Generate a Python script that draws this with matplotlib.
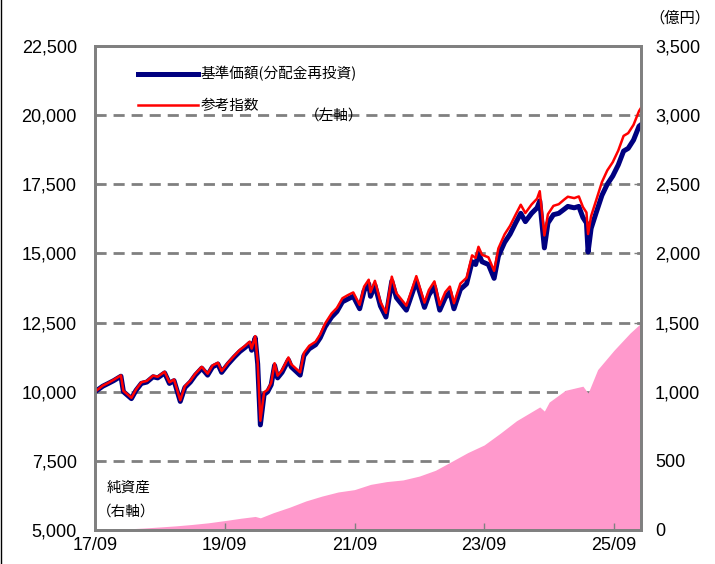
import matplotlib
matplotlib.use("Agg")
import matplotlib.pyplot as plt
import matplotlib.dates as mdates
import matplotlib.lines as mlines
import matplotlib.ticker as mticker
import pandas as pd

plt.rcParams['font.family'] = ['Noto Sans CJK JP', 'DejaVu Sans']

# 基準価額 / 参考指数 (left axis)
nav_dates = [
    "2017-09-01", "2017-10-15", "2017-11-15", "2017-12-15", "2018-01-25", "2018-02-08",
    "2018-03-25", "2018-04-20", "2018-05-20", "2018-06-20", "2018-07-25", "2018-08-20",
    "2018-09-28", "2018-10-25", "2018-11-20", "2018-12-25", "2019-01-20", "2019-02-20",
    "2019-03-20", "2019-04-25", "2019-05-28", "2019-06-25", "2019-07-25", "2019-08-15",
    "2019-09-20", "2019-10-25", "2019-11-25", "2019-12-25", "2020-01-20", "2020-01-31",
    "2020-02-20", "2020-03-05", "2020-03-20", "2020-04-10", "2020-04-30", "2020-05-20",
    "2020-06-08", "2020-06-25", "2020-07-20", "2020-08-25", "2020-09-10", "2020-10-30",
    "2020-11-20", "2020-12-20", "2021-01-25", "2021-02-20", "2021-03-20", "2021-04-25",
    "2021-05-25", "2021-06-25", "2021-07-25", "2021-08-25", "2021-09-30", "2021-10-25",
    "2021-11-20", "2021-11-30", "2021-12-25", "2022-01-25", "2022-02-25", "2022-03-30",
    "2022-04-25", "2022-05-20", "2022-06-20", "2022-07-25", "2022-08-15", "2022-09-30",
    "2022-10-25", "2022-11-25", "2022-12-25", "2023-01-25", "2023-02-20", "2023-03-15",
    "2023-04-20", "2023-05-25", "2023-06-25", "2023-07-15", "2023-07-31", "2023-08-20",
    "2023-09-25", "2023-10-27", "2023-11-20", "2023-12-25", "2024-01-25", "2024-02-25",
    "2024-03-25", "2024-04-20", "2024-05-25", "2024-06-25", "2024-07-10", "2024-08-05",
    "2024-08-25", "2024-09-25", "2024-10-25", "2024-11-25", "2024-12-15", "2025-01-20",
    "2025-02-15", "2025-03-10", "2025-03-30", "2025-04-08", "2025-04-25", "2025-05-25",
    "2025-06-25", "2025-07-25", "2025-08-25", "2025-09-25", "2025-10-25", "2025-11-20",
    "2025-12-20", "2026-01-20", "2026-01-30",
]
fund = [
    10000, 10200, 10300, 10400, 10560, 10000,
    9750, 10050, 10300, 10350, 10540, 10500,
    10680, 10300, 10400, 9650, 10150, 10350,
    10600, 10850, 10600, 10900, 11000, 10700,
    11000, 11250, 11450, 11600, 11750, 11500,
    11950, 11000, 8800, 9900, 10000, 10250,
    10950, 10500, 10700, 11150, 10900, 10600,
    11300, 11550, 11700, 11950, 12350, 12700,
    12900, 13250, 13350, 13450, 13000, 13650,
    13900, 13450, 13850, 13100, 12700, 14000,
    13400, 13200, 12950, 13600, 14000, 13050,
    13500, 13800, 12950, 13400, 13600, 13000,
    13700, 13900, 14700, 14600, 15000, 14700,
    14600, 14100, 14900, 15400, 15700, 16100,
    16450, 16150, 16450, 16650, 16900, 15200,
    16100, 16400, 16450, 16600, 16700, 16650,
    16700, 16300, 16100, 15050, 15900, 16500,
    17100, 17500, 17800, 18200, 18700, 18800,
    19100, 19600, 19650,
]
ref_index = [
    10000, 10220, 10320, 10430, 10590, 10030,
    9780, 10080, 10340, 10390, 10580, 10540,
    10720, 10340, 10440, 9690, 10200, 10400,
    10650, 10900, 10650, 10950, 11050, 10750,
    11050, 11300, 11510, 11660, 11810, 11560,
    12010, 11060, 8950, 9980, 10070, 10320,
    11030, 10580, 10780, 11240, 10990, 10700,
    11400, 11660, 11810, 12070, 12470, 12830,
    13030, 13380, 13490, 13590, 13140, 13800,
    14050, 13600, 14010, 13250, 12850, 14160,
    13560, 13360, 13110, 13770, 14180, 13220,
    13680, 13990, 13130, 13600, 13800, 13200,
    13910, 14120, 14930, 14840, 15240, 14950,
    14860, 14370, 15180, 15690, 16000, 16400,
    16760, 16460, 16770, 16980, 17250, 15650,
    16420, 16720, 16780, 16950, 17050, 17000,
    17060, 16680, 16480, 15700, 16350, 16950,
    17580, 18000, 18300, 18720, 19250, 19350,
    19650, 20150, 20250,
]

# 純資産 (right axis, 億円)
asset_dates = [
    "2017-09-01", "2017-12-01", "2018-03-01", "2018-06-01", "2018-09-01", "2018-12-01",
    "2019-03-01", "2019-06-01", "2019-09-01", "2019-12-01", "2020-02-20", "2020-03-20",
    "2020-06-01", "2020-09-01", "2020-12-01", "2021-03-01", "2021-06-01", "2021-09-01",
    "2021-12-01", "2022-03-01", "2022-06-01", "2022-09-01", "2022-12-01", "2023-03-01",
    "2023-06-01", "2023-09-01", "2023-12-01", "2024-03-01", "2024-07-10", "2024-08-05",
    "2024-09-01", "2024-12-01", "2025-03-10", "2025-04-08", "2025-06-01", "2025-09-01",
    "2025-12-01", "2026-01-30",
]
net_assets = [
    0, 3, 8, 14, 22, 30,
    40, 52, 68, 85, 98, 88,
    125, 165, 210, 245, 275, 292,
    330, 350, 362, 390, 432, 495,
    560, 615, 700, 790, 890, 860,
    925, 1010, 1040, 990, 1160, 1300,
    1425, 1495,
]

x_ticks = ["2017-09-01", "2019-09-01", "2021-09-01", "2023-09-01", "2025-09-01"]

grey = "#808080"

fig = plt.figure(figsize=(7.15, 5.64), dpi=100)
ax = fig.add_axes([95 / 715, 1 - 530 / 564, 546 / 715, 484 / 564])
ax2 = ax.twinx()

# Net assets area on the right axis, with the dashed grid underneath
ax2.set_axisbelow(True)
ax2.grid(axis="y", color=grey, linestyle=(0, (4, 2.5)), linewidth=2)
ax2.fill_between(pd.to_datetime(asset_dates), net_assets, color="#FF99CC", linewidth=0, zorder=2)
ax2.set_ylim(0, 3500)
ax2.yaxis.set_major_locator(mticker.MultipleLocator(500))
ax2.yaxis.set_major_formatter(mticker.StrMethodFormatter("{x:,.0f}"))

# Lines on the left axis, drawn above the area
ax.set_zorder(ax2.get_zorder() + 1)
ax.patch.set_visible(False)
d = pd.to_datetime(nav_dates)
ax.plot(d, fund, color="#000080", linewidth=3.6, label="基準価額(分配金再投資)", solid_joinstyle="round")
ax.plot(d, ref_index, color="#FF0000", linewidth=1.8, label="参考指数")
ax.set_ylim(5000, 22500)
ax.yaxis.set_major_locator(mticker.MultipleLocator(2500))
ax.yaxis.set_major_formatter(mticker.StrMethodFormatter("{x:,.0f}"))

ax.set_xlim(pd.Timestamp("2017-09-01"), pd.Timestamp("2026-01-31"))
ax.set_xticks(pd.to_datetime(x_ticks))
ax.xaxis.set_major_formatter(mdates.DateFormatter("%y/%m"))

for a in (ax, ax2):
    for s in a.spines.values():
        s.set_color(grey)
        s.set_linewidth(2)
    a.tick_params(direction="in", length=5, width=1, color=grey, labelsize=13, labelcolor="black")
    for lbl in a.get_xticklabels() + a.get_yticklabels():
        lbl.set_family(["Liberation Sans", "DejaVu Sans"])
ax.tick_params(axis="x", pad=5)
ax.tick_params(axis="y", pad=13)
ax2.tick_params(axis="y", pad=10)

leg = ax.legend(loc="upper left", bbox_to_anchor=(0.055, 0.985), frameon=False,
                fontsize=10.5, handlelength=4.1, handletextpad=0.2, labelspacing=1.2)

ax.text(0.385, 0.855, "（左軸）", transform=ax.transAxes, fontsize=10.5, va="center")
ax.text(0.022, 0.087, "純資産", transform=ax.transAxes, fontsize=10.5, va="center")
ax.text(0.003, 0.037, "（右軸）", transform=ax.transAxes, fontsize=10.5, va="center")
fig.text(0.993, 0.968, "（億円）", fontsize=11, ha="right", va="center")

# thin border on the left edge of the image
fig.add_artist(mlines.Line2D([0.002, 0.002], [0, 1], color="black", linewidth=1))

fig.savefig("out.png", dpi=100)
